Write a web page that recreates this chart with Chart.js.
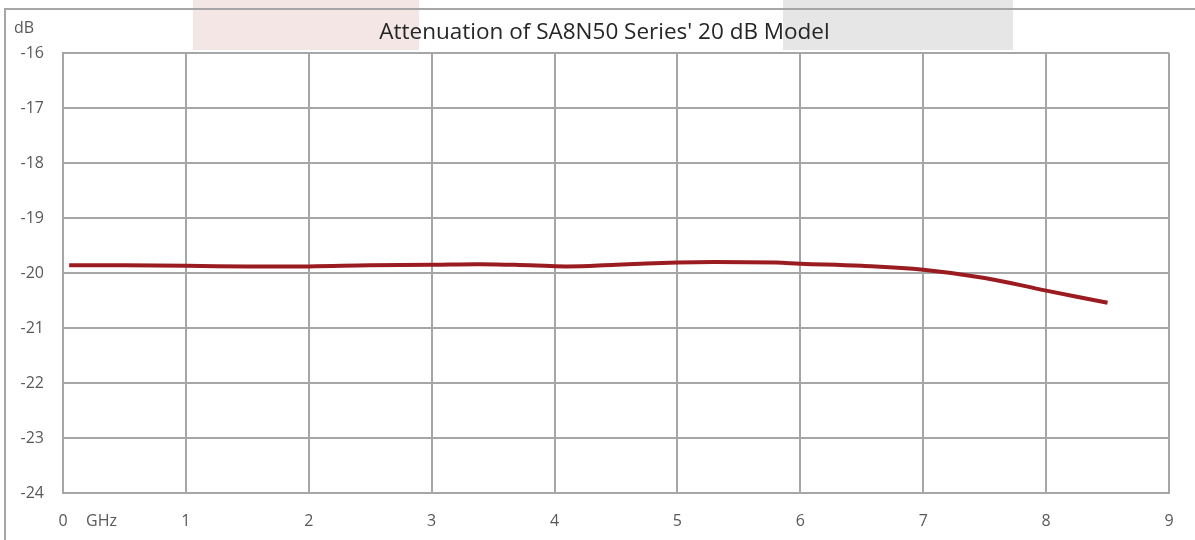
<!DOCTYPE html>
<html>
<head>
<meta charset="utf-8">
<script src="https://cdn.jsdelivr.net/npm/chart.js@4"></script>
<style>
  html, body { margin: 0; padding: 0; background: #fff; }
  #wrap { width: 1195px; height: 540px; }
</style>
</head>
<body>
<div id="wrap"><canvas id="attChart" width="1195" height="540"></canvas></div>
<script>
// frequency in GHz and attenuation in dB
const freqs = [0.05, 0.5, 1, 1.5, 2, 2.5, 3, 3.4, 3.8, 4.1, 4.5, 5, 5.3, 5.8, 6, 6.5, 7, 7.5, 8, 8.5];
const atten = [-19.86, -19.86, -19.87, -19.88, -19.88, -19.86, -19.85, -19.84, -19.86, -19.88, -19.85, -19.81, -19.80, -19.81, -19.83, -19.87, -19.94, -20.09, -20.32, -20.54];
const xTicks = [0, 1, 2, 3, 4, 5, 6, 7, 8, 9];
const yTicks = [-24, -23, -22, -21, -20, -19, -18, -17, -16];

const titleText = "Attenuation of SA8N50 Series' 20 dB Model";
const gridGrey = '#a6a6a6';
const labelGrey = '#595959';
const fontName = "'Open Sans', sans-serif";

const points = freqs.map((f, i) => ({ x: f, y: atten[i] }));

//Plugin for the extra bits: the two shaded blocks at the top, the outer frame, title and the unit labels
const extras = {
    id: 'extras',
    beforeDraw(chart) {
        const ctx = chart.ctx;
        ctx.save();
        ctx.fillStyle = '#f5e6e6';
        ctx.fillRect(193, 0, 226, 50);
        ctx.fillStyle = '#e6e6e6';
        ctx.fillRect(783, 0, 230, 50);
        ctx.restore();
    },
    afterDraw(chart) {
        const ctx = chart.ctx;
        ctx.save();
        ctx.strokeStyle = gridGrey;
        ctx.lineWidth = 2;
        ctx.beginPath();
        ctx.moveTo(5, 560);
        ctx.lineTo(5, 9);
        ctx.lineTo(1220, 9);
        ctx.stroke();
        ctx.textBaseline = 'middle';
        // title is a bit right of the canvas centre in the original
        ctx.fillStyle = '#262626';
        ctx.font = '22.5px ' + fontName;
        ctx.textAlign = 'center';
        ctx.fillText(titleText, 604.5, 33);
        ctx.fillStyle = labelGrey;
        ctx.font = '16px ' + fontName;
        ctx.textAlign = 'left';
        ctx.fillText('dB', 14, 28);
        ctx.fillText('GHz', 86, 521);
        ctx.restore();
    }
};

const config = {
    type: 'line',
    data: {
        datasets: [{
            data: points,
            borderColor: '#9b1c20',
            borderWidth: 4,
            pointRadius: 0,
            tension: 0.4,
            fill: false
        }]
    },
    options: {
        responsive: false,
        animation: false,
        devicePixelRatio: 1,
        layout: { padding: { left: 0, right: 26, top: 53, bottom: 0 } },
        plugins: {
            legend: { display: false },
            tooltip: { enabled: false },
            title: { display: false }
        },
        scales: {
            x: {
                type: 'linear',
                min: 0,
                max: 9,
                afterBuildTicks: axis => { axis.ticks = xTicks.map(v => ({ value: v })); },
                afterFit: axis => { axis.height = 47; },
                ticks: { color: labelGrey, font: { family: fontName, size: 16 }, padding: 19 },
                grid: { color: gridGrey, lineWidth: 2, drawTicks: false },
                border: { color: gridGrey, width: 2 }
            },
            y: {
                min: -24,
                max: -16,
                afterBuildTicks: axis => { axis.ticks = yTicks.map(v => ({ value: v })); },
                afterFit: axis => { axis.width = 63; },
                ticks: { color: labelGrey, font: { family: fontName, size: 16 }, padding: 19 },
                grid: { color: gridGrey, lineWidth: 2, drawTicks: false },
                border: { color: gridGrey, width: 2 }
            }
        }
    },
    plugins: [extras]
};

const chart1 = new Chart(document.getElementById('attChart').getContext('2d'), config);
</script>
</body>
</html>
